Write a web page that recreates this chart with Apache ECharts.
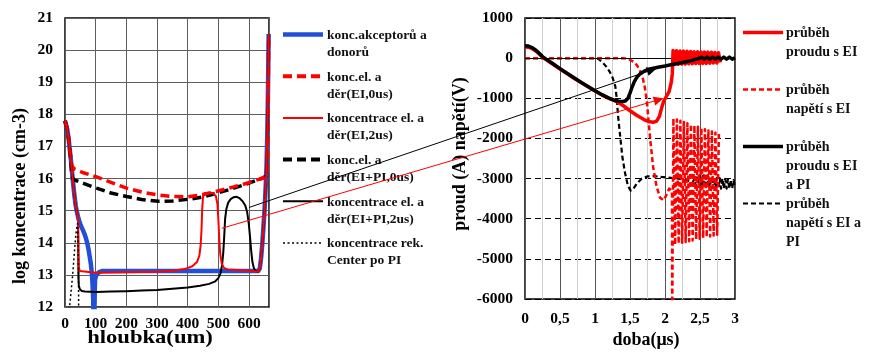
<!DOCTYPE html>
<html>
<head>
<meta charset="utf-8">
<script src="https://cdn.jsdelivr.net/npm/echarts@6/dist/echarts.min.js"></script>
<style>
  html, body { margin: 0; padding: 0; background: #fff; }
  #chart { width: 869px; height: 353px; }
</style>
</head>
<body>
<div id="chart"></div>
<script>
// ---------- left panel: concentration profiles, [depth (um), log concentration (cm-3)] ----------
const depthRange = [0, 665];
const logConcRange = [12, 21];

const dopingProfile = [
  [0,17.8],[3,17.75],[7,17.55],[11,17.3],[15,16.95],[19,16.6],[23,16.2],[27,15.8],[31,15.45],[35,15.15],
  [38,15.0],[44,14.75],[51,14.55],[58,14.4],[65,14.24],[71,14.05],[76,13.83],[80,13.6],[84,13.36],[87,13.1],
  [89,12.84],[91,12.45],[92,12.2],[93,11.5],[94,11.0],[96,11.8],[97,12.5],[98,12.85],[102,13.0],[110,13.08],
  [120,13.12],[200,13.12],[300,13.12],[400,13.12],[500,13.12],[600,13.12],[630,13.12],[635,13.2],[639,13.5],
  [643,13.95],[647,14.5],[651,15.1],[654,15.7],[657,16.4],[659,17.2],[661,18.2],[662,19.0],[663,19.8],[664,20.5]
];
const carriersEI0 = [
  [0,17.8],[3,17.75],[7,17.55],[11,17.3],[15,16.95],[19,16.6],[22,16.4],[30,16.3],[60,16.18],[103,16.05],
  [150,15.88],[201,15.7],[250,15.58],[304,15.49],[350,15.44],[400,15.43],[440,15.48],[505,15.63],[550,15.74],
  [598,15.87],[640,16.0],[657,16.08],[660,16.9],[662,18.4],[664,20.3]
];
const carriersEI2 = [
  [0,17.8],[3,17.75],[7,17.55],[11,17.3],[15,16.95],[19,16.6],[23,16.2],[27,15.8],[31,15.45],[35,15.15],
  [39,14.95],[42,14.85],[43,14.3],[44,13.6],[45,13.25],[48,13.12],[54,13.08],[100,13.07],[200,13.08],[300,13.1],
  [350,13.13],[390,13.18],[415,13.27],[430,13.4],[438,13.6],[442,13.9],[445,14.4],[447,15.0],[450,15.45],[455,15.55],
  [470,15.56],[483,15.54],[492,15.45],[497,15.2],[500,14.7],[503,14.1],[506,13.65],[511,13.35],[518,13.22],[530,13.17],
  [560,13.15],[600,13.13],[630,13.1],[635,13.2],[639,13.5],[643,13.95],[647,14.5],[651,15.1],[654,15.7],[657,16.4],
  [659,17.2],[661,18.2],[662,19.0],[663,19.8],[664,20.5]
];
const carriersEIPI0 = [
  [0,17.8],[3,17.75],[7,17.55],[11,17.3],[15,16.95],[19,16.6],[22,16.1],[27,15.97],[60,15.85],[103,15.7],
  [150,15.55],[201,15.44],[250,15.35],[304,15.29],[350,15.3],[407,15.36],[450,15.43],[494,15.54],[550,15.7],
  [598,15.85],[640,16.0],[658,16.08]
];
const carriersEIPI2 = [
  [0,17.8],[3,17.75],[7,17.55],[11,17.3],[15,16.95],[19,16.6],[23,16.2],[27,15.8],[31,15.45],[35,15.15],
  [39,14.95],[42,14.85],[43,14.3],[43.5,13.5],[44,12.9],[45,12.68],[48,12.56],[55,12.5],[65,12.48],[100,12.47],
  [150,12.48],[200,12.49],[250,12.51],[300,12.53],[350,12.57],[400,12.61],[440,12.66],[470,12.72],[490,12.8],
  [500,12.9],[507,13.05],[512,13.3],[516,13.7],[519,14.2],[522,14.75],[526,15.05],[532,15.25],[540,15.36],
  [550,15.42],[560,15.43],[570,15.38],[580,15.28],[588,15.15],[594,14.95],[599,14.6],[603,14.2],[607,13.75],
  [611,13.4],[616,13.2],[622,13.12],[630,13.1],[635,13.2],[639,13.5],[643,13.95],[647,14.5],[651,15.1],
  [654,15.7],[657,16.4],[659,17.2],[661,18.2],[662,19.0],[663,19.8],[664,20.5]
];
const recCenters = [
  [10,11.5],[15,12.0],[20,12.5],[25,13.0],[29,13.5],[33,14.0],[37,14.4],[41,14.6],[43,14.0],[44,13.0],[44.5,12.0],[45,11.5]
];

// ---------- right panel: waveforms, [time (us), current (A) / voltage (V)] ----------
const timeRange = [0, 3];
const ampRange = [-6000, 1000];

const currentEI = [
  [0,280],[0.05,272],[0.1,240],[0.15,185],[0.2,110],[0.25,25],[0.3,-35],[0.4,-150],[0.5,-270],[0.6,-385],
  [0.7,-500],[0.8,-610],[0.9,-715],[1.0,-820],[1.1,-920],[1.2,-1005],[1.3,-1075],[1.4,-1180],[1.5,-1310],
  [1.6,-1430],[1.7,-1530],[1.78,-1585],[1.84,-1595],[1.88,-1570],[1.92,-1450],[1.95,-1250],[1.98,-1080],
  [2.02,-950],[2.06,-830],[2.09,-600],[2.105,-380],[2.11,-100],[2.115,190],
  [2.14,-150],[2.165,185],[2.19,-150],[2.215,180],[2.24,-145],[2.265,175],[2.29,-145],[2.315,170],[2.34,-140],
  [2.365,165],[2.39,-140],[2.415,160],[2.44,-135],[2.465,160],[2.49,-135],[2.515,155],[2.54,-130],[2.565,150],
  [2.59,-130],[2.615,150],[2.64,-125],[2.665,145],[2.69,-120],[2.715,140],[2.74,-120],[2.765,135],[2.79,-110]
];
const voltageEI = [
  [0,0],[0.5,0],[1.0,0],[1.4,0],[1.45,-10],[1.5,-40],[1.55,-90],[1.6,-180],[1.64,-296],[1.68,-480],
  [1.71,-712],[1.74,-1050],[1.76,-1460],[1.79,-2040],[1.83,-2705],[1.88,-3200],[1.93,-3480],[1.98,-3540],
  [2.02,-3410],[2.06,-3250],[2.1,-3300],[2.103,-6500],[2.12,-1500],[2.145,-4650],[2.17,-1530],[2.195,-4620],
  [2.22,-1560],[2.245,-4600],[2.27,-1590],[2.295,-4580],[2.32,-1620],[2.345,-4560],[2.37,-1650],[2.395,-4540],
  [2.42,-1680],[2.445,-4520],[2.47,-1710],[2.495,-4500],[2.52,-1740],[2.545,-4480],[2.57,-1770],[2.595,-4460],
  [2.62,-1800],[2.645,-4440],[2.67,-1830],[2.695,-4420],[2.72,-1860],[2.745,-4400],[2.77,-1890]
];
const currentEIPI = [
  [0,310],[0.05,300],[0.1,265],[0.15,205],[0.2,125],[0.25,40],[0.3,-25],[0.4,-140],[0.5,-260],[0.6,-375],
  [0.7,-490],[0.8,-600],[0.9,-705],[1.0,-810],[1.1,-910],[1.2,-995],[1.28,-1050],[1.34,-1075],[1.4,-1080],
  [1.44,-1060],[1.47,-1000],[1.5,-870],[1.53,-720],[1.56,-590],[1.6,-470],[1.65,-380],[1.72,-310],[1.8,-265],
  [1.9,-225],[2.0,-195],[2.1,-160],[2.2,-125],[2.3,-90],[2.4,-50],[2.48,-10],[2.52,20],[2.56,-25],[2.6,25],
  [2.64,-25],[2.68,25],[2.72,-25],[2.76,25],[2.8,-25],[2.84,25],[2.88,-25],[2.92,25],[2.96,-25],[3.0,10]
];
const voltageEIPI = [
  [0,0],[0.5,0],[0.98,0],[1.05,-20],[1.12,-130],[1.17,-230],[1.21,-340],[1.25,-480],[1.29,-700],[1.31,-1000],
  [1.33,-1450],[1.36,-1950],[1.39,-2450],[1.43,-2870],[1.47,-3180],[1.51,-3300],[1.55,-3250],[1.6,-3120],
  [1.67,-3000],[1.75,-2945],[1.85,-2940],[1.95,-2960],[2.05,-2975],[2.17,-2995],[2.3,-3040],[2.4,-3080],
  [2.42,-3000],[2.44,-3180],[2.46,-2930],[2.48,-3200],[2.5,-2920],[2.52,-3210],[2.54,-2930],[2.56,-3220],
  [2.58,-2940],[2.6,-3230],[2.62,-2950],[2.64,-3230],[2.66,-2960],[2.68,-3240],[2.7,-2970],[2.72,-3240],
  [2.74,-2980],[2.76,-3250],[2.78,-2990],[2.8,-3250],[2.82,-3000],[2.84,-3250],[2.86,-3010],[2.88,-3250],
  [2.9,-3020],[2.92,-3250],[2.94,-3030],[2.96,-3250],[2.98,-3040],[3.0,-3230]
];

// pointer arrows: from a profile curve in the left panel to a current curve in the right panel
const arrowBlackFrom = [600, 15.1], arrowBlackTo = [1.88, -255];
const arrowRedFrom = [511, 14.45], arrowRedTo = [1.98, -1000];

const SERIF = "'Liberation Serif', 'Times New Roman', serif";
const RED = '#ff0000', BLUE = '#2050d8', BLACK = '#000000';

const chart = echarts.init(document.getElementById('chart'), null, { renderer: 'canvas' });

const tickLabel = { color: '#000', fontFamily: SERIF, fontWeight: 'bold', fontSize: 15.5 };

function line(name, data, xi, color, width, type, z) {
  return {
    name, type: 'line', data, xAxisIndex: xi, yAxisIndex: xi,
    symbol: 'none', clip: true, z: z || 2, animation: false,
    lineStyle: { color, width, type: type || 'solid', cap: 'butt', join: 'round' }
  };
}

chart.setOption({
  animation: false,
  backgroundColor: '#fff',
  grid: [
    { left: 65, top: 18, width: 204, height: 289, show: true, borderColor: '#000', borderWidth: 1.5, backgroundColor: 'transparent' },
    { left: 525, top: 18, width: 210, height: 281, show: true, borderColor: '#000', borderWidth: 1.5, backgroundColor: 'transparent' }
  ],
  xAxis: [
    {
      type: 'value', gridIndex: 0, min: depthRange[0], max: depthRange[1], interval: 100,
      axisLine: { show: false }, axisTick: { show: false },
      axisLabel: Object.assign({ margin: 9, showMaxLabel: false }, tickLabel),
      splitLine: { show: true, lineStyle: { color: '#5e5e5e', width: 1 } }
    },
    {
      type: 'value', gridIndex: 1, min: timeRange[0], max: timeRange[1], interval: 0.5,
      axisLine: { show: false }, axisTick: { show: false },
      axisLabel: Object.assign({ margin: 12, formatter: v => String(v).replace('.', ',') }, tickLabel),
      splitLine: { show: true, lineStyle: { color: '#555', width: 1 } },
      minorTick: { show: false, splitNumber: 2 },
      minorSplitLine: { show: true, lineStyle: { color: '#cfcfcf', width: 1 } }
    }
  ],
  yAxis: [
    {
      type: 'value', gridIndex: 0, min: logConcRange[0], max: logConcRange[1], interval: 1,
      axisLine: { show: false }, axisTick: { show: false },
      axisLabel: Object.assign({ margin: 12 }, tickLabel),
      splitLine: { show: true, lineStyle: { color: '#5e5e5e', width: 1 } }
    },
    {
      type: 'value', gridIndex: 1, min: ampRange[0], max: ampRange[1], interval: 1000,
      axisLine: { show: false }, axisTick: { show: false },
      axisLabel: Object.assign({ margin: 12, formatter: v => String(v) }, tickLabel),
      splitLine: { show: true, lineStyle: { color: '#000', width: 1.2, type: [6, 4] } }
    }
  ],
  series: [
    line('konc.akceptorů a donorů', dopingProfile, 0, BLUE, 4.5, 'solid', 2),
    line('konc.el. a děr(EI+PI,0us)', carriersEIPI0, 0, BLACK, 3.5, [9, 5], 3),
    line('konc.el. a děr(EI,0us)', carriersEI0, 0, RED, 3.5, [9, 5], 4),
    line('koncentrace el. a děr(EI+PI,2us)', carriersEIPI2, 0, BLACK, 2, 'solid', 5),
    line('koncentrace el. a děr(EI,2us)', carriersEI2, 0, RED, 2, 'solid', 6),
    line('koncentrace rek. Center po PI', recCenters, 0, BLACK, 1.5, [2, 2.5], 7),

    Object.assign(line('průběh napětí s EI a PI', voltageEIPI, 1, BLACK, 2.2, [5, 3], 3), {
      markLine: {
        silent: true, symbol: 'none', label: { show: false },
        lineStyle: { color: '#000', width: 1.2, type: 'solid' },
        data: [{ yAxis: 0 }]
      }
    }),
    line('průběh napětí s EI', voltageEI, 1, RED, 2.5, [5, 3], 4),
    line('průběh proudu s EI', currentEI, 1, RED, 3.5, 'solid', 5),
    line('průběh proudu s EI a PI', currentEIPI, 1, BLACK, 3.5, 'solid', 6)
  ]
});

// ---------- legends, axis titles and pointer arrows ----------
const graphics = [];

function legendItem(x0, y, text, color, width, dash, textX, lineH, fontSize) {
  graphics.push({
    type: 'line', z: 20, silent: true,
    shape: { x1: x0, y1: y, x2: x0 + 40, y2: y },
    style: { stroke: color, lineWidth: width, lineDash: dash || null }
  });
  graphics.push({
    type: 'text', z: 20, silent: true, x: textX, y: y - lineH / 2 + 1,
    style: {
      text, fill: '#111', font: 'bold ' + fontSize + 'px ' + SERIF,
      lineHeight: lineH, align: 'left', verticalAlign: 'top'
    }
  });
}

const leftLegend = [
  ['konc.akceptorů a\ndonorů', BLUE, 4.5, null],
  ['konc.el. a\nděr(EI,0us)', RED, 4, [9, 5]],
  ['koncentrace el. a\nděr(EI,2us)', RED, 2, null],
  ['konc.el. a\nděr(EI+PI,0us)', BLACK, 4, [9, 5]],
  ['koncentrace el. a\nděr(EI+PI,2us)', BLACK, 2, null],
  ['koncentrace rek.\nCenter po PI', BLACK, 1.5, [2, 2.5]]
];
leftLegend.forEach((d, i) => legendItem(283, 34.5 + i * 41.7, d[0], d[1], d[2], d[3], 327, 17, 13.5));

const rightLegend = [
  ['průběh\nproudu s EI', RED, 3.5, null],
  ['průběh\nnapětí s EI', RED, 2.5, [5, 3]],
  ['průběh\nproudu s EI\na PI', BLACK, 3.5, null],
  ['průběh\nnapětí s EI a\nPI', BLACK, 2.2, [5, 3]]
];
rightLegend.forEach((d, i) => legendItem(743, 32.5 + i * 57, d[0], d[1], d[2], d[3], 786, 19, 14));

function title(text, x, y, rot, size, sx) {
  graphics.push({
    type: 'text', z: 20, silent: true, x, y, rotation: rot, scaleX: sx || 1,
    style: { text, fill: '#000', font: 'bold ' + size + 'px ' + SERIF, align: 'center', verticalAlign: 'middle' }
  });
}
title('log koncentrace (cm-3)', 20, 196, Math.PI / 2, 18);
title('hloubka(um)', 150, 338, 0, 19.5, 1.16);
title('proud (A) napětí(V)', 460, 154, Math.PI / 2, 18);
title('doba(μs)', 646, 340, 0, 18);

function arrow(fromGrid, from, toGrid, to, color) {
  const a = chart.convertToPixel({ gridIndex: fromGrid }, from);
  const b = chart.convertToPixel({ gridIndex: toGrid }, to);
  const dx = b[0] - a[0], dy = b[1] - a[1];
  const len = Math.sqrt(dx * dx + dy * dy);
  const ux = dx / len, uy = dy / len;
  const head = 10, half = 4.5;
  const bx = b[0] - ux * head, by = b[1] - uy * head;
  graphics.push({
    type: 'line', z: 30, silent: true,
    shape: { x1: a[0], y1: a[1], x2: bx, y2: by },
    style: { stroke: color, lineWidth: 1 }
  });
  graphics.push({
    type: 'polygon', z: 30, silent: true,
    shape: { points: [[b[0], b[1]], [bx - uy * half, by + ux * half], [bx + uy * half, by - ux * half]] },
    style: { fill: color }
  });
}
arrow(0, arrowBlackFrom, 1, arrowBlackTo, BLACK);
arrow(0, arrowRedFrom, 1, arrowRedTo, RED);

chart.setOption({ graphic: graphics });
</script>
</body>
</html>
